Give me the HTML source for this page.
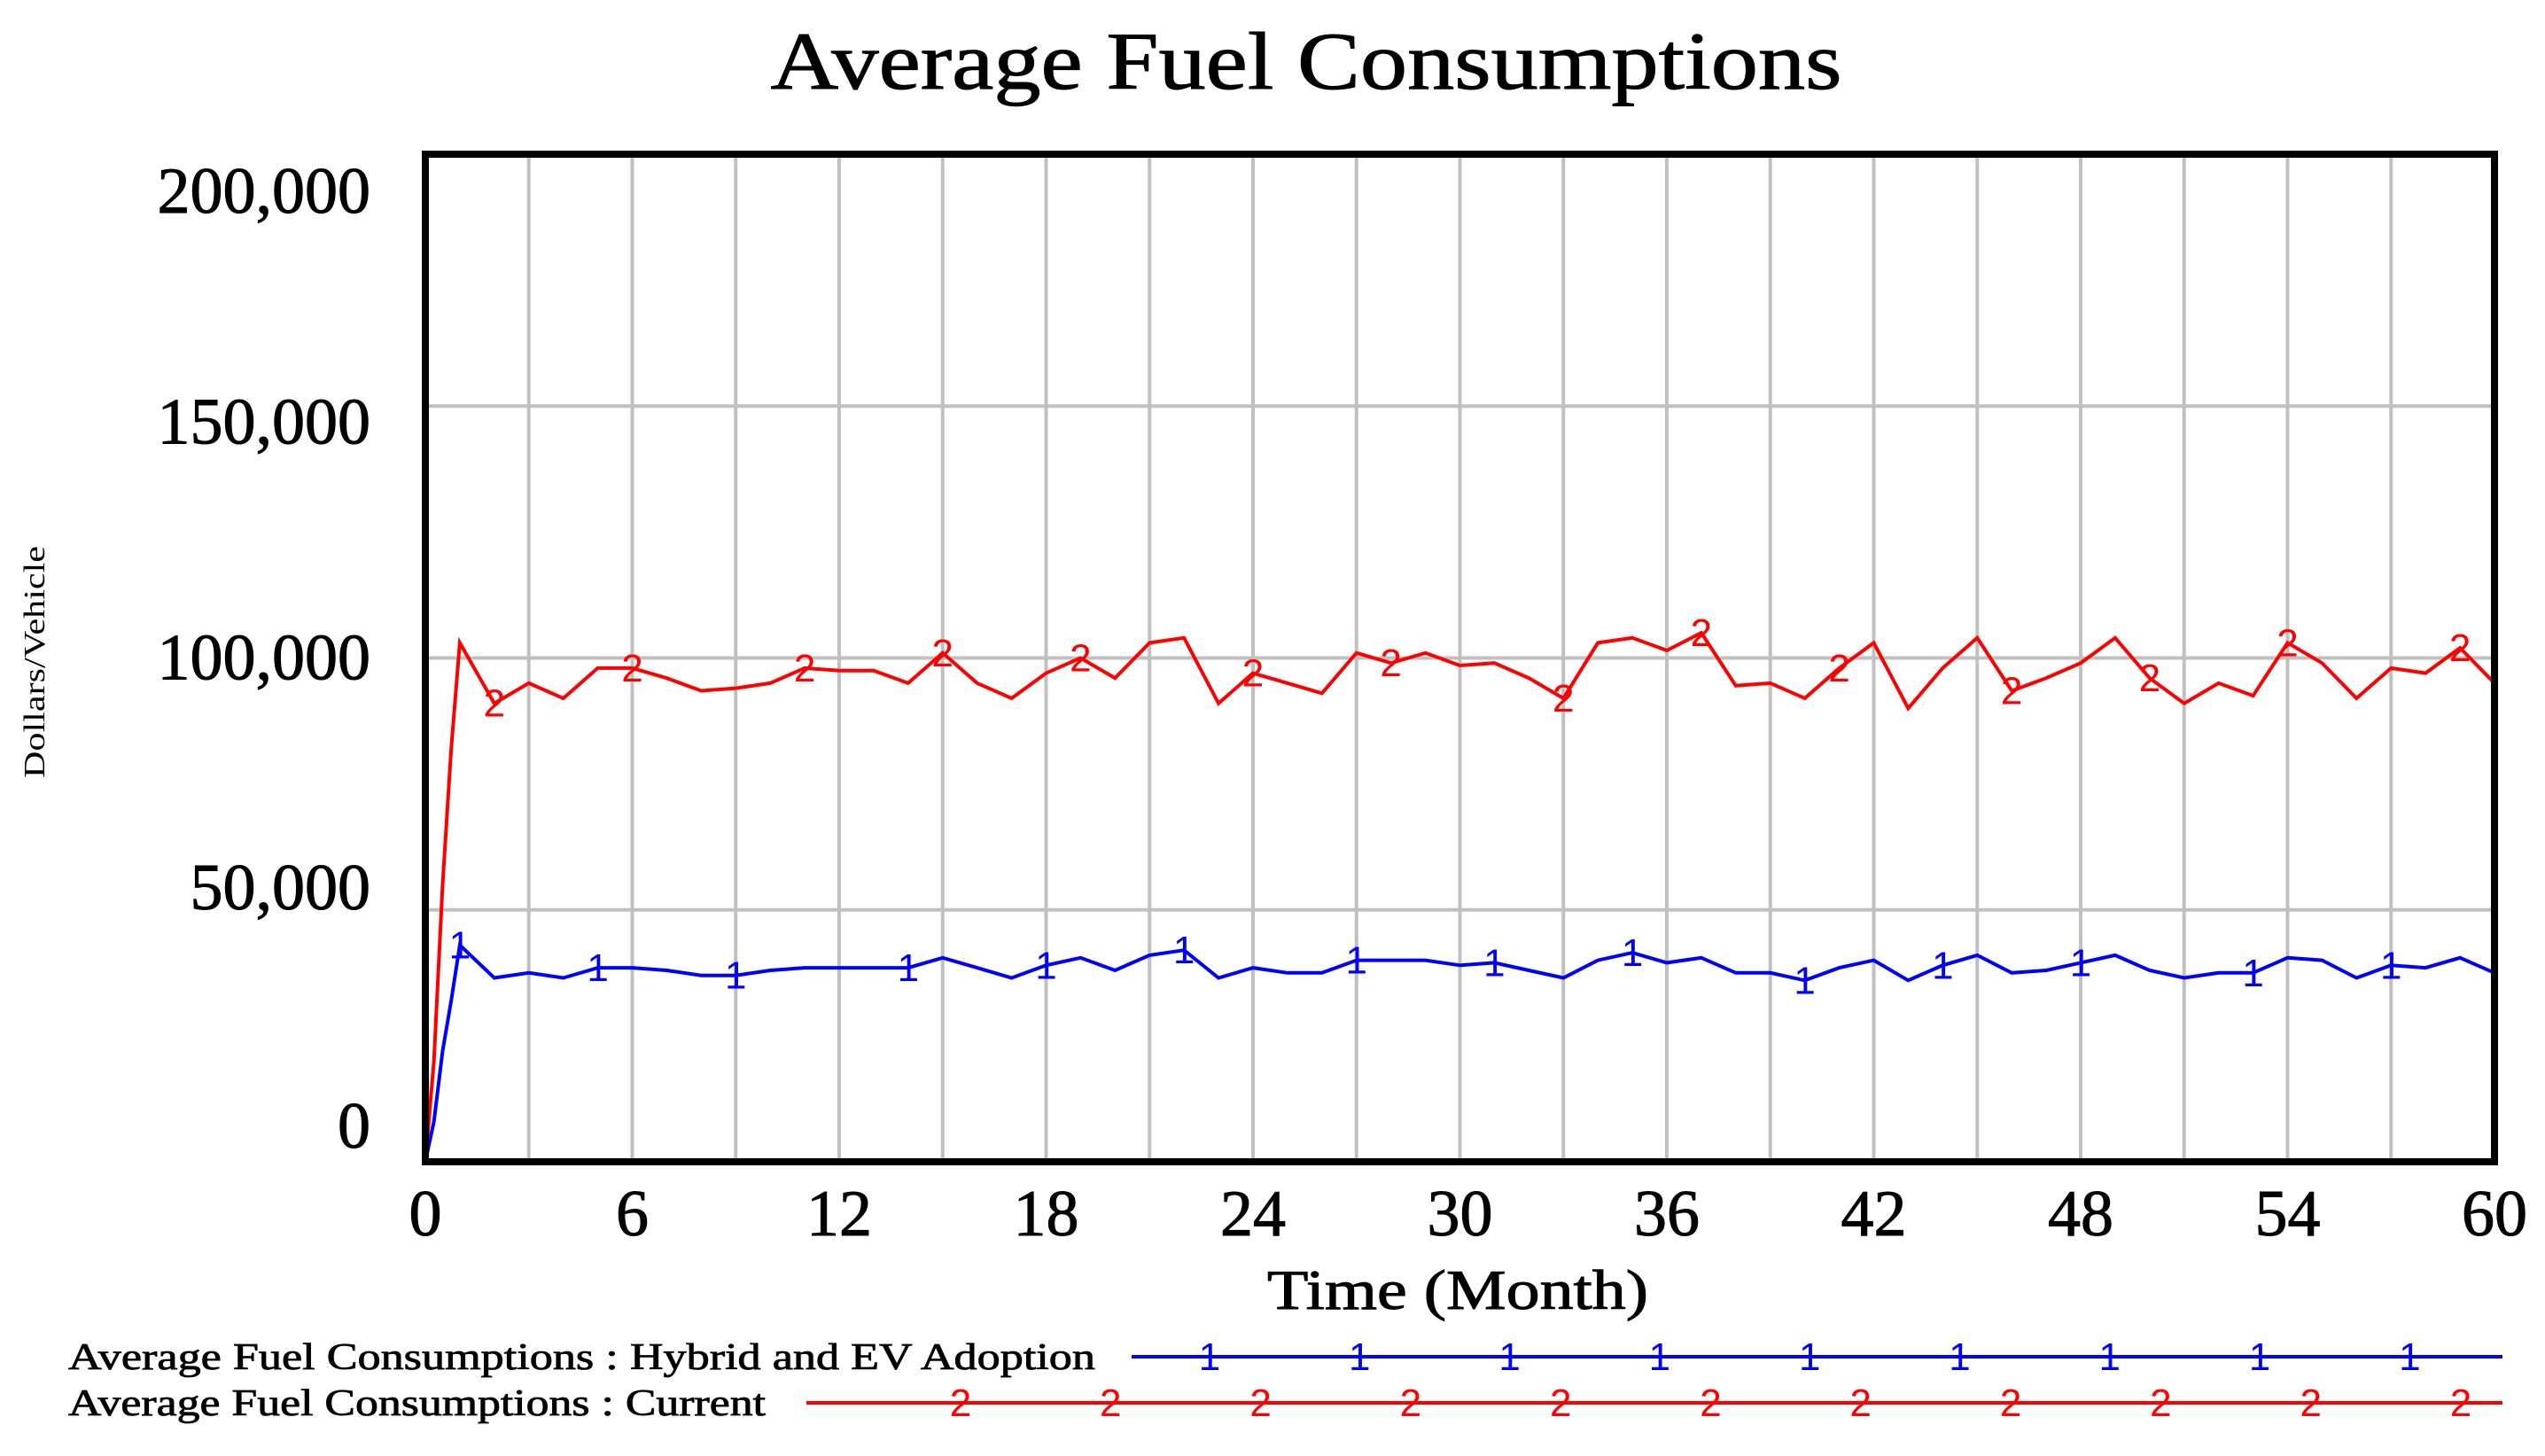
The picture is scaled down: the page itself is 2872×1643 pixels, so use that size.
<!DOCTYPE html>
<html><head><meta charset="utf-8"><style>
html,body{margin:0;padding:0;background:#fff;}
svg{display:block;font-family:"Liberation Serif",serif;}
</style></head><body>
<svg id="chart" width="2872" height="1643" viewBox="0 0 2872 1643" xmlns="http://www.w3.org/2000/svg">
<rect width="2872" height="1643" fill="#fff"/>
<text x="1474" y="100" font-size="92" text-anchor="middle" textLength="1209" lengthAdjust="spacingAndGlyphs" stroke="#000" stroke-width="1">Average Fuel Consumptions</text>
<text transform="translate(50,747) rotate(-90)" font-size="34" text-anchor="middle" textLength="262" lengthAdjust="spacingAndGlyphs">Dollars/Vehicle</text>
<text x="1645" y="1477" font-size="64" text-anchor="middle" textLength="430" lengthAdjust="spacingAndGlyphs" stroke="#000" stroke-width="1">Time (Month)</text>
<g id="grid"></g>
<g id="series"></g>
<rect x="480" y="174" width="2335" height="1137" fill="none" stroke="#000" stroke-width="8"/>
<g id="ticks"></g>
<g id="legend"></g>
</svg>
<script>
const yTickValues = [0, 50000, 100000, 150000, 200000];
const yTickLabels = ["0", "50,000", "100,000", "150,000", "200,000"];
const xTickValues = [0, 6, 12, 18, 24, 30, 36, 42, 48, 54, 60];
const times = [0,0.25,0.5,0.75,1,2,3,4,5,6,7,8,9,10,11,12,13,14,15,16,17,18,19,20,21,22,23,24,25,26,27,28,29,30,31,32,33,34,35,36,37,38,39,40,41,42,43,44,45,46,47,48,49,50,51,52,53,54,55,56,57,58,59,60];
const hybridValues = [0,8000,22000,32000,43000,36500,37500,36500,38500,38500,38000,37000,37000,38000,38500,38500,38500,38500,40500,38500,36500,39000,40500,38000,41000,42000,36500,38500,37500,37500,40000,40000,40000,39000,39500,38000,36500,40000,41500,39500,40500,37500,37500,36000,38500,40000,36000,39000,41000,37500,38000,39500,41000,38000,36500,37500,37500,40500,40000,36500,39000,38500,40500,37500];
const currentValues = [0,20000,55000,82000,103000,91000,95000,92000,98000,98000,96000,93500,94000,95000,98000,97500,97500,95000,101000,95000,92000,97000,100000,96000,103000,104000,91000,97000,95000,93000,101000,99000,101000,98500,99000,96000,92000,103000,104000,101500,105000,94500,95000,92000,98000,103000,90000,98000,104000,93500,96000,99000,104000,96000,91000,95000,92500,103000,99000,92000,98000,97000,102000,95000];
const hybridMarkerTimes = [1,5,9,14,18,22,27,31,35,40,44,48,53,57];
const currentMarkerTimes = [2,6,11,15,19,24,28,33,37,41,46,50,54,59];

const NS = "http://www.w3.org/2000/svg";
const X0 = 480, X1 = 2815, Y0 = 1311, Y1 = 174;
const xMax = 60, yMax = 200000;
const sx = t => X0 + (t / xMax) * (X1 - X0);
const sy = v => Y0 - (v / yMax) * (Y0 - Y1);
function mk(tag, attrs, parent) { const e = document.createElementNS(NS, tag); for (const k in attrs) e.setAttribute(k, attrs[k]); parent.appendChild(e); return e; }
function interp(vals, t) {
  for (let i = 1; i < times.length; i++) if (times[i] >= t) { const f = (t - times[i-1]) / (times[i] - times[i-1]); return vals[i-1] + f * (vals[i] - vals[i-1]); }
  return vals[vals.length - 1];
}
const grid = document.getElementById('grid');
for (let m = 3; m < 60; m += 3) {
  const l = mk('line', {x1: sx(m), x2: sx(m), y1: Y1, y2: Y0, stroke: '#c0c0c0', 'stroke-width': 4}, grid);
  
  
}
yTickValues.forEach(v => { if (v > 0 && v < yMax) {
  const l = mk('line', {x1: X0, x2: X1, y1: sy(v), y2: sy(v), stroke: '#c0c0c0', 'stroke-width': 4}, grid);
  
  
}});
const ticks = document.getElementById('ticks');
yTickValues.forEach((v, i) => {
  const t = mk('text', {x: 418, y: sy(v) + 24 + (v === 0 ? -40 : v === yMax ? 42 : 0) - (v===50000?25:0) + (v===150000?18:0), 'font-size': 74, 'text-anchor': 'end', stroke: '#000', 'stroke-width': 1}, ticks);
  t.textContent = yTickLabels[i];
  
  
});
xTickValues.forEach(v => {
  const t = mk('text', {x: sx(v), y: 1394, 'font-size': 74, 'text-anchor': 'middle', stroke: '#000', 'stroke-width': 1}, ticks);
  t.textContent = String(v);
  
  
});
const series = document.getElementById('series');
function drawSeries(vals, color, markerTimes, label, name) {
  const pts = times.map((t, i) => sx(t).toFixed(1) + ',' + sy(vals[i]).toFixed(1)).join(' ');
  const p = mk('polyline', {points: pts, fill: 'none', stroke: color, 'stroke-width': 4}, series);
  
  
  markerTimes.forEach(t => {
    const m = mk('text', {x: sx(t), y: sy(interp(vals, t)) + 15, 'font-size': 44, fill: color, 'text-anchor': 'middle', 'font-family': '"Liberation Sans",sans-serif'}, series);
    m.textContent = label;
    
    
  });
}
drawSeries(hybridValues, '#0000ff', hybridMarkerTimes, '1', 'hybrid-ev');
drawSeries(currentValues, '#ff0000', currentMarkerTimes, '2', 'current');

const legend = document.getElementById('legend');
function legendRow(y, text, tw, x1, color, label, first, name) {
  const t = mk('text', {x: 77, y: y + 14, 'font-size': 42, textLength: tw, lengthAdjust: 'spacingAndGlyphs', stroke: '#000', 'stroke-width': 0.8}, legend);
  t.textContent = text;
  
  
  const l = mk('line', {x1: x1, x2: 2824, y1: y, y2: y, stroke: color, 'stroke-width': 4}, legend);
  
  
  for (let x = first; x < 2824; x += 169.3) {
    const m = mk('text', {x: x, y: y + 15, 'font-size': 44, fill: color, 'text-anchor': 'middle', 'font-family': '"Liberation Sans",sans-serif'}, legend);
    m.textContent = label;
    
    
  }
}
legendRow(1531, 'Average Fuel Consumptions : Hybrid and EV Adoption', 1159, 1277, '#0000ff', '1', 1365, 'hybrid-ev');
legendRow(1583, 'Average Fuel Consumptions : Current', 787, 910, '#ff0000', '2', 1084, 'current');
</script>
</body></html>
